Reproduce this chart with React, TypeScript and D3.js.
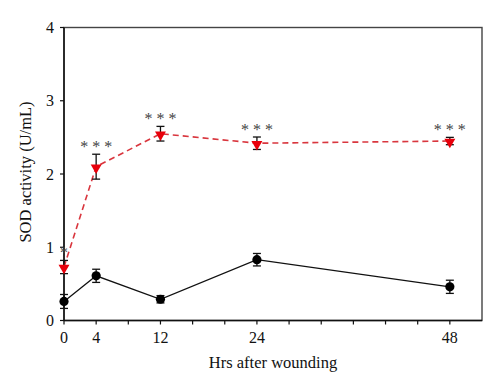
import React from "react";
import * as d3 from "d3";

// values
const hours = [0, 4, 12, 24, 48];
const control = [0.26, 0.61, 0.29, 0.83, 0.46];
const controlErr = [0.095, 0.09, 0.05, 0.085, 0.09];
const wounded = [0.73, 2.1, 2.55, 2.42, 2.45];
const woundedErr = [0.09, 0.17, 0.1, 0.085, 0.05];
const signif = ["*", "* * *", "* * *", "* * *", "* * *"];
const xTickLabels = [0, 4, 12, 24, 48];
const xTickMarks = d3.range(0, 52, 4);
const yTicks = [0, 1, 2, 3, 4];

const width = 500;
const height = 392;
const margin = { top: 27.5, right: 18, bottom: 71.5, left: 64 };
const innerWidth = width - margin.left - margin.right;
const innerHeight = height - margin.top - margin.bottom;

const App = () => {
  const x = d3.scaleLinear().domain([0, 52]).range([0, innerWidth]);
  const y = d3.scaleLinear().domain([0, 4]).range([innerHeight, 0]);

  const line = d3
    .line<number>()
    .x((d, i) => x(hours[i]))
    .y((d) => y(d));

  const tri = d3.symbol().type(d3.symbolTriangle).size(52)();

  const errBars = (vals: number[], errs: number[], key: string) =>
    vals.map((v, i) => {
      const cx = x(hours[i]);
      const y1 = y(v + errs[i]);
      const y2 = y(v - errs[i]);
      return (
        <g key={key + i} stroke="#111" strokeWidth={1.3}>
          <line x1={cx} x2={cx} y1={y1} y2={y2} />
          <line x1={cx - 4} x2={cx + 4} y1={y1} y2={y1} />
          <line x1={cx - 4} x2={cx + 4} y1={y2} y2={y2} />
        </g>
      );
    });

  const font = "'Liberation Serif', 'Times New Roman', serif";

  return (
    <svg
      width={width}
      height={height}
      style={{ position: "absolute", left: 0, top: 0, background: "#fff" }}
      fontFamily={font}
    >
      <g transform={`translate(${margin.left},${margin.top})`}>
        {/* frame */}
        <rect
          x={0}
          y={0}
          width={innerWidth}
          height={innerHeight}
          fill="none"
          stroke="#444"
          strokeWidth={1.4}
        />
        <line x1={0} x2={0} y1={0} y2={innerHeight} stroke="#111" strokeWidth={1.5} />
        <line x1={0} x2={innerWidth} y1={innerHeight} y2={innerHeight} stroke="#111" strokeWidth={1.5} />

        {/* x axis */}
        {xTickMarks.map((t) => (
          <line key={"xt" + t} x1={x(t)} x2={x(t)} y1={innerHeight} y2={innerHeight + 4} stroke="#111" strokeWidth={1.2} />
        ))}
        {xTickLabels.map((t) => (
          <text key={"xl" + t} x={x(t)} y={innerHeight + 22} textAnchor="middle" fontSize={16} fill="#111">
            {t}
          </text>
        ))}
        <text x={innerWidth / 2} y={innerHeight + 47} textAnchor="middle" fontSize={16.5} fill="#111">
          Hrs after wounding
        </text>

        {/* y axis */}
        {yTicks.map((t) => (
          <g key={"yt" + t}>
            <line x1={-4} x2={0} y1={y(t)} y2={y(t)} stroke="#111" strokeWidth={1.2} />
            <text x={-10} y={y(t) + 5.5} textAnchor="end" fontSize={16} fill="#111">
              {t}
            </text>
          </g>
        ))}
        <text
          transform={`translate(${31 - margin.left},${172 - margin.top}) rotate(-90)`}
          textAnchor="middle"
          fontSize={16.5}
          fill="#111"
        >
          SOD activity (U/mL)
        </text>

        {/* control series */}
        <path d={line(control) ?? ""} fill="none" stroke="#111" strokeWidth={1.3} />
        {errBars(control, controlErr, "ce")}
        {control.map((v, i) => (
          <circle key={"c" + i} cx={x(hours[i])} cy={y(v)} r={4.6} fill="#000" />
        ))}

        {/* wounded series */}
        <path
          d={line(wounded) ?? ""}
          fill="none"
          stroke="#d9363e"
          strokeWidth={1.6}
          strokeDasharray="6,4"
        />
        {errBars(wounded, woundedErr, "we")}
        {wounded.map((v, i) => (
          <path
            key={"w" + i}
            d={tri ?? ""}
            transform={`translate(${x(hours[i])},${y(v) + 1}) rotate(180)`}
            fill="#e8000b"
          />
        ))}

        {/* significance */}
        {signif.map((s, i) => (
          <text
            key={"s" + i}
            x={x(hours[i])}
            y={y(wounded[i] + woundedErr[i]) - 2}
            textAnchor="middle"
            fontSize={16}
            fill="#444"
          >
            {s}
          </text>
        ))}
      </g>
    </svg>
  );
};

export default App;
